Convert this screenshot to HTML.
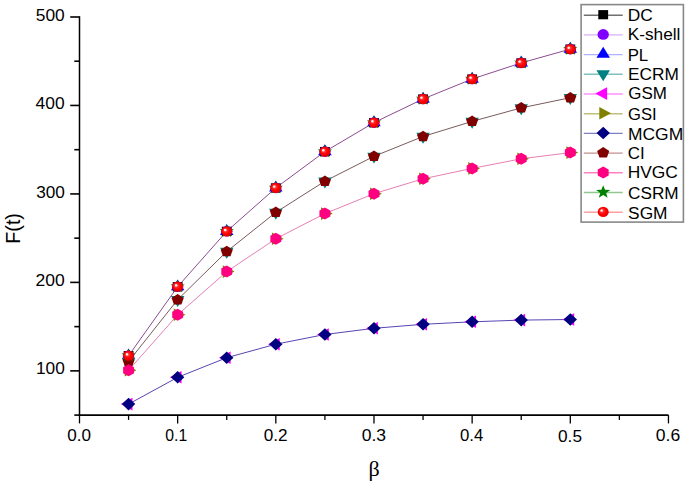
<!DOCTYPE html>
<html><head><meta charset="utf-8"><style>
html,body{margin:0;padding:0;background:#fff;}
svg{display:block;}
.tl{font-family:"Liberation Sans",sans-serif;font-size:16.3px;fill:#000;}
.lg{font-family:"Liberation Sans",sans-serif;font-size:16.3px;fill:#000;}
.at{font-family:"Liberation Sans",sans-serif;font-size:19.7px;fill:#000;}
.beta{font-family:"Liberation Serif",serif;font-size:22px;fill:#000;}
</style></head><body>
<svg width="685" height="485" viewBox="0 0 685 485">
<defs>
<radialGradient id="sph" cx="0.5" cy="0.5" r="0.55" fx="0.32" fy="0.34">
<stop offset="0" stop-color="#ffffff"/><stop offset="0.12" stop-color="#fff0f0"/><stop offset="0.3" stop-color="#ff3030"/><stop offset="0.6" stop-color="#ff0000"/><stop offset="1" stop-color="#e00000"/>
</radialGradient>
</defs>
<polyline points="128.58,355.70 177.66,286.70 226.74,231.30 275.82,187.90 324.90,151.60 373.98,122.60 423.06,99.00 472.14,79.00 521.22,62.90 570.30,49.10" fill="none" stroke="#8c4c90" stroke-width="1.0" stroke-linejoin="round"/>
<polyline points="128.58,361.50 177.66,299.70 226.74,251.50 275.82,212.40 324.90,181.20 373.98,156.30 423.06,136.50 472.14,121.40 521.22,107.90 570.30,97.70" fill="none" stroke="#7a5c5c" stroke-width="1.0" stroke-linejoin="round"/>
<polyline points="128.58,370.30 177.66,314.80 226.74,271.60 275.82,238.80 324.90,213.60 373.98,193.70 423.06,178.80 472.14,168.40 521.22,158.80 570.30,152.60" fill="none" stroke="#e680b4" stroke-width="1.0" stroke-linejoin="round"/>
<polyline points="128.58,404.10 177.66,377.30 226.74,357.70 275.82,344.20 324.90,334.50 373.98,328.30 423.06,324.30 472.14,321.80 521.22,320.10 570.30,319.50" fill="none" stroke="#5a44b4" stroke-width="1.0" stroke-linejoin="round"/>
<rect x="123.66" y="351.10" width="9.84" height="9.20" fill="#000000"/>
<rect x="172.74" y="282.10" width="9.84" height="9.20" fill="#000000"/>
<rect x="221.82" y="226.70" width="9.84" height="9.20" fill="#000000"/>
<rect x="270.90" y="183.30" width="9.84" height="9.20" fill="#000000"/>
<rect x="319.98" y="147.00" width="9.84" height="9.20" fill="#000000"/>
<rect x="369.06" y="118.00" width="9.84" height="9.20" fill="#000000"/>
<rect x="418.14" y="94.40" width="9.84" height="9.20" fill="#000000"/>
<rect x="467.22" y="74.40" width="9.84" height="9.20" fill="#000000"/>
<rect x="516.30" y="58.30" width="9.84" height="9.20" fill="#000000"/>
<rect x="565.38" y="44.50" width="9.84" height="9.20" fill="#000000"/>
<ellipse cx="128.58" cy="355.70" rx="5.67" ry="5.3" fill="#8000ff"/>
<ellipse cx="177.66" cy="286.70" rx="5.67" ry="5.3" fill="#8000ff"/>
<ellipse cx="226.74" cy="231.30" rx="5.67" ry="5.3" fill="#8000ff"/>
<ellipse cx="275.82" cy="187.90" rx="5.67" ry="5.3" fill="#8000ff"/>
<ellipse cx="324.90" cy="151.60" rx="5.67" ry="5.3" fill="#8000ff"/>
<ellipse cx="373.98" cy="122.60" rx="5.67" ry="5.3" fill="#8000ff"/>
<ellipse cx="423.06" cy="99.00" rx="5.67" ry="5.3" fill="#8000ff"/>
<ellipse cx="472.14" cy="79.00" rx="5.67" ry="5.3" fill="#8000ff"/>
<ellipse cx="521.22" cy="62.90" rx="5.67" ry="5.3" fill="#8000ff"/>
<ellipse cx="570.30" cy="49.10" rx="5.67" ry="5.3" fill="#8000ff"/>
<polygon points="128.58,348.40 135.34,359.35 121.82,359.35" fill="#0000ff"/>
<polygon points="177.66,279.40 184.42,290.35 170.90,290.35" fill="#0000ff"/>
<polygon points="226.74,224.00 233.50,234.95 219.98,234.95" fill="#0000ff"/>
<polygon points="275.82,180.60 282.58,191.55 269.06,191.55" fill="#0000ff"/>
<polygon points="324.90,144.30 331.66,155.25 318.14,155.25" fill="#0000ff"/>
<polygon points="373.98,115.30 380.74,126.25 367.22,126.25" fill="#0000ff"/>
<polygon points="423.06,91.70 429.82,102.65 416.30,102.65" fill="#0000ff"/>
<polygon points="472.14,71.70 478.90,82.65 465.38,82.65" fill="#0000ff"/>
<polygon points="521.22,55.60 527.98,66.55 514.46,66.55" fill="#0000ff"/>
<polygon points="570.30,41.80 577.06,52.75 563.54,52.75" fill="#0000ff"/>
<polygon points="128.58,368.80 121.82,357.85 135.34,357.85" fill="#008080"/>
<polygon points="177.66,307.00 170.90,296.05 184.42,296.05" fill="#008080"/>
<polygon points="226.74,258.80 219.98,247.85 233.50,247.85" fill="#008080"/>
<polygon points="275.82,219.70 269.06,208.75 282.58,208.75" fill="#008080"/>
<polygon points="324.90,188.50 318.14,177.55 331.66,177.55" fill="#008080"/>
<polygon points="373.98,163.60 367.22,152.65 380.74,152.65" fill="#008080"/>
<polygon points="423.06,143.80 416.30,132.85 429.82,132.85" fill="#008080"/>
<polygon points="472.14,128.70 465.38,117.75 478.90,117.75" fill="#008080"/>
<polygon points="521.22,115.20 514.46,104.25 527.98,104.25" fill="#008080"/>
<polygon points="570.30,105.00 563.54,94.05 577.06,94.05" fill="#008080"/>
<polygon points="120.77,404.10 132.49,397.78 132.49,410.42" fill="#ff00ff"/>
<polygon points="169.85,377.30 181.57,370.98 181.57,383.62" fill="#ff00ff"/>
<polygon points="218.93,357.70 230.65,351.38 230.65,364.02" fill="#ff00ff"/>
<polygon points="268.01,344.20 279.73,337.88 279.73,350.52" fill="#ff00ff"/>
<polygon points="317.09,334.50 328.81,328.18 328.81,340.82" fill="#ff00ff"/>
<polygon points="366.17,328.30 377.89,321.98 377.89,334.62" fill="#ff00ff"/>
<polygon points="415.25,324.30 426.97,317.98 426.97,330.62" fill="#ff00ff"/>
<polygon points="464.33,321.80 476.05,315.48 476.05,328.12" fill="#ff00ff"/>
<polygon points="513.41,320.10 525.13,313.78 525.13,326.42" fill="#ff00ff"/>
<polygon points="562.49,319.50 574.21,313.18 574.21,325.82" fill="#ff00ff"/>
<polygon points="136.39,370.30 124.67,376.62 124.67,363.98" fill="#808000"/>
<polygon points="185.47,314.80 173.75,321.12 173.75,308.48" fill="#808000"/>
<polygon points="234.55,271.60 222.83,277.92 222.83,265.28" fill="#808000"/>
<polygon points="283.63,238.80 271.91,245.12 271.91,232.48" fill="#808000"/>
<polygon points="332.71,213.60 320.99,219.92 320.99,207.28" fill="#808000"/>
<polygon points="381.79,193.70 370.07,200.02 370.07,187.38" fill="#808000"/>
<polygon points="430.87,178.80 419.15,185.12 419.15,172.48" fill="#808000"/>
<polygon points="479.95,168.40 468.23,174.72 468.23,162.08" fill="#808000"/>
<polygon points="529.03,158.80 517.31,165.12 517.31,152.48" fill="#808000"/>
<polygon points="578.11,152.60 566.39,158.92 566.39,146.28" fill="#808000"/>
<polygon points="128.58,397.80 135.28,404.10 128.58,410.40 121.88,404.10" fill="#000080"/>
<polygon points="177.66,371.00 184.36,377.30 177.66,383.60 170.96,377.30" fill="#000080"/>
<polygon points="226.74,351.40 233.44,357.70 226.74,364.00 220.04,357.70" fill="#000080"/>
<polygon points="275.82,337.90 282.52,344.20 275.82,350.50 269.12,344.20" fill="#000080"/>
<polygon points="324.90,328.20 331.60,334.50 324.90,340.80 318.20,334.50" fill="#000080"/>
<polygon points="373.98,322.00 380.68,328.30 373.98,334.60 367.28,328.30" fill="#000080"/>
<polygon points="423.06,318.00 429.76,324.30 423.06,330.60 416.36,324.30" fill="#000080"/>
<polygon points="472.14,315.50 478.84,321.80 472.14,328.10 465.44,321.80" fill="#000080"/>
<polygon points="521.22,313.80 527.92,320.10 521.22,326.40 514.52,320.10" fill="#000080"/>
<polygon points="570.30,313.20 577.00,319.50 570.30,325.80 563.60,319.50" fill="#000080"/>
<polygon points="128.58,355.70 134.65,359.71 132.33,366.19 124.83,366.19 122.51,359.71" fill="#800000"/>
<polygon points="177.66,293.90 183.73,297.91 181.41,304.39 173.91,304.39 171.59,297.91" fill="#800000"/>
<polygon points="226.74,245.70 232.81,249.71 230.49,256.19 222.99,256.19 220.67,249.71" fill="#800000"/>
<polygon points="275.82,206.60 281.89,210.61 279.57,217.09 272.07,217.09 269.75,210.61" fill="#800000"/>
<polygon points="324.90,175.40 330.97,179.41 328.65,185.89 321.15,185.89 318.83,179.41" fill="#800000"/>
<polygon points="373.98,150.50 380.05,154.51 377.73,160.99 370.23,160.99 367.91,154.51" fill="#800000"/>
<polygon points="423.06,130.70 429.13,134.71 426.81,141.19 419.31,141.19 416.99,134.71" fill="#800000"/>
<polygon points="472.14,115.60 478.21,119.61 475.89,126.09 468.39,126.09 466.07,119.61" fill="#800000"/>
<polygon points="521.22,102.10 527.29,106.11 524.97,112.59 517.47,112.59 515.15,106.11" fill="#800000"/>
<polygon points="570.30,91.90 576.37,95.91 574.05,102.39 566.55,102.39 564.23,95.91" fill="#800000"/>
<polygon points="128.58,364.30 134.04,367.30 134.04,373.30 128.58,376.30 123.12,373.30 123.12,367.30" fill="#ff0080"/>
<polygon points="177.66,308.80 183.12,311.80 183.12,317.80 177.66,320.80 172.20,317.80 172.20,311.80" fill="#ff0080"/>
<polygon points="226.74,265.60 232.20,268.60 232.20,274.60 226.74,277.60 221.28,274.60 221.28,268.60" fill="#ff0080"/>
<polygon points="275.82,232.80 281.28,235.80 281.28,241.80 275.82,244.80 270.36,241.80 270.36,235.80" fill="#ff0080"/>
<polygon points="324.90,207.60 330.36,210.60 330.36,216.60 324.90,219.60 319.44,216.60 319.44,210.60" fill="#ff0080"/>
<polygon points="373.98,187.70 379.44,190.70 379.44,196.70 373.98,199.70 368.52,196.70 368.52,190.70" fill="#ff0080"/>
<polygon points="423.06,172.80 428.52,175.80 428.52,181.80 423.06,184.80 417.60,181.80 417.60,175.80" fill="#ff0080"/>
<polygon points="472.14,162.40 477.60,165.40 477.60,171.40 472.14,174.40 466.68,171.40 466.68,165.40" fill="#ff0080"/>
<polygon points="521.22,152.80 526.68,155.80 526.68,161.80 521.22,164.80 515.76,161.80 515.76,155.80" fill="#ff0080"/>
<polygon points="570.30,146.60 575.76,149.60 575.76,155.60 570.30,158.60 564.84,155.60 564.84,149.60" fill="#ff0080"/>
<polygon points="128.58,348.70 130.40,353.35 135.70,353.54 131.53,356.60 132.98,361.36 128.58,358.60 124.18,361.36 125.63,356.60 121.46,353.54 126.76,353.35" fill="#008000"/>
<polygon points="177.66,279.70 179.48,284.35 184.78,284.54 180.61,287.60 182.06,292.36 177.66,289.60 173.26,292.36 174.71,287.60 170.54,284.54 175.84,284.35" fill="#008000"/>
<polygon points="226.74,224.30 228.56,228.95 233.86,229.14 229.69,232.20 231.14,236.96 226.74,234.20 222.34,236.96 223.79,232.20 219.62,229.14 224.92,228.95" fill="#008000"/>
<polygon points="275.82,180.90 277.64,185.55 282.94,185.74 278.77,188.80 280.22,193.56 275.82,190.80 271.42,193.56 272.87,188.80 268.70,185.74 274.00,185.55" fill="#008000"/>
<polygon points="324.90,144.60 326.72,149.25 332.02,149.44 327.85,152.50 329.30,157.26 324.90,154.50 320.50,157.26 321.95,152.50 317.78,149.44 323.08,149.25" fill="#008000"/>
<polygon points="373.98,115.60 375.80,120.25 381.10,120.44 376.93,123.50 378.38,128.26 373.98,125.50 369.58,128.26 371.03,123.50 366.86,120.44 372.16,120.25" fill="#008000"/>
<polygon points="423.06,92.00 424.88,96.65 430.18,96.84 426.01,99.90 427.46,104.66 423.06,101.90 418.66,104.66 420.11,99.90 415.94,96.84 421.24,96.65" fill="#008000"/>
<polygon points="472.14,72.00 473.96,76.65 479.26,76.84 475.09,79.90 476.54,84.66 472.14,81.90 467.74,84.66 469.19,79.90 465.02,76.84 470.32,76.65" fill="#008000"/>
<polygon points="521.22,55.90 523.04,60.55 528.34,60.74 524.17,63.80 525.62,68.56 521.22,65.80 516.82,68.56 518.27,63.80 514.10,60.74 519.40,60.55" fill="#008000"/>
<polygon points="570.30,42.10 572.12,46.75 577.42,46.94 573.25,50.00 574.70,54.76 570.30,52.00 565.90,54.76 567.35,50.00 563.18,46.94 568.48,46.75" fill="#008000"/>
<ellipse cx="128.58" cy="355.70" rx="5.51" ry="5.15" fill="url(#sph)"/>
<ellipse cx="177.66" cy="286.70" rx="5.51" ry="5.15" fill="url(#sph)"/>
<ellipse cx="226.74" cy="231.30" rx="5.51" ry="5.15" fill="url(#sph)"/>
<ellipse cx="275.82" cy="187.90" rx="5.51" ry="5.15" fill="url(#sph)"/>
<ellipse cx="324.90" cy="151.60" rx="5.51" ry="5.15" fill="url(#sph)"/>
<ellipse cx="373.98" cy="122.60" rx="5.51" ry="5.15" fill="url(#sph)"/>
<ellipse cx="423.06" cy="99.00" rx="5.51" ry="5.15" fill="url(#sph)"/>
<ellipse cx="472.14" cy="79.00" rx="5.51" ry="5.15" fill="url(#sph)"/>
<ellipse cx="521.22" cy="62.90" rx="5.51" ry="5.15" fill="url(#sph)"/>
<ellipse cx="570.30" cy="49.10" rx="5.51" ry="5.15" fill="url(#sph)"/>
<line x1="79.5" y1="16.2" x2="79.5" y2="415.1" stroke="#000" stroke-width="1.5"/>
<line x1="78.8" y1="415.1" x2="668.5" y2="415.1" stroke="#000" stroke-width="1.7"/>
<line x1="74.30" y1="415.10" x2="79.5" y2="415.10" stroke="#000" stroke-width="1.6"/>
<line x1="70.20" y1="370.87" x2="79.5" y2="370.87" stroke="#000" stroke-width="1.6"/>
<line x1="74.30" y1="326.63" x2="79.5" y2="326.63" stroke="#000" stroke-width="1.6"/>
<line x1="70.20" y1="282.39" x2="79.5" y2="282.39" stroke="#000" stroke-width="1.6"/>
<line x1="74.30" y1="238.16" x2="79.5" y2="238.16" stroke="#000" stroke-width="1.6"/>
<line x1="70.20" y1="193.93" x2="79.5" y2="193.93" stroke="#000" stroke-width="1.6"/>
<line x1="74.30" y1="149.69" x2="79.5" y2="149.69" stroke="#000" stroke-width="1.6"/>
<line x1="70.20" y1="105.45" x2="79.5" y2="105.45" stroke="#000" stroke-width="1.6"/>
<line x1="74.30" y1="61.22" x2="79.5" y2="61.22" stroke="#000" stroke-width="1.6"/>
<line x1="70.20" y1="16.99" x2="79.5" y2="16.99" stroke="#000" stroke-width="1.6"/>
<line x1="79.50" y1="415.1" x2="79.50" y2="423.40" stroke="#000" stroke-width="1.3"/>
<line x1="128.58" y1="415.1" x2="128.58" y2="419.90" stroke="#000" stroke-width="1.3"/>
<line x1="177.66" y1="415.1" x2="177.66" y2="423.40" stroke="#000" stroke-width="1.3"/>
<line x1="226.74" y1="415.1" x2="226.74" y2="419.90" stroke="#000" stroke-width="1.3"/>
<line x1="275.82" y1="415.1" x2="275.82" y2="423.40" stroke="#000" stroke-width="1.3"/>
<line x1="324.90" y1="415.1" x2="324.90" y2="419.90" stroke="#000" stroke-width="1.3"/>
<line x1="373.98" y1="415.1" x2="373.98" y2="423.40" stroke="#000" stroke-width="1.3"/>
<line x1="423.06" y1="415.1" x2="423.06" y2="419.90" stroke="#000" stroke-width="1.3"/>
<line x1="472.14" y1="415.1" x2="472.14" y2="423.40" stroke="#000" stroke-width="1.3"/>
<line x1="521.22" y1="415.1" x2="521.22" y2="419.90" stroke="#000" stroke-width="1.3"/>
<line x1="570.30" y1="415.1" x2="570.30" y2="423.40" stroke="#000" stroke-width="1.3"/>
<line x1="619.38" y1="415.1" x2="619.38" y2="419.90" stroke="#000" stroke-width="1.3"/>
<line x1="668.46" y1="415.1" x2="668.46" y2="423.40" stroke="#000" stroke-width="1.3"/>
<rect x="581.1" y="4.6" width="102.3" height="217.5" fill="#fff" stroke="#888" stroke-width="1.6"/>
<line x1="583.8" y1="15.20" x2="622.7" y2="15.20" stroke="#707070" stroke-width="1.4"/>
<rect x="598.28" y="10.10" width="9.84" height="9.20" fill="#000000"/>
<line x1="583.8" y1="34.90" x2="622.7" y2="34.90" stroke="#d8b0f8" stroke-width="1.4"/>
<ellipse cx="603.20" cy="34.42" rx="5.67" ry="5.3" fill="#8000ff"/>
<line x1="583.8" y1="54.60" x2="622.7" y2="54.60" stroke="#b0b0ff" stroke-width="1.4"/>
<polygon points="603.20,46.84 609.96,57.79 596.44,57.79" fill="#0000ff"/>
<line x1="583.8" y1="74.30" x2="622.7" y2="74.30" stroke="#80c0c0" stroke-width="1.4"/>
<polygon points="603.20,81.16 596.44,70.21 609.96,70.21" fill="#008080"/>
<line x1="583.8" y1="94.00" x2="622.7" y2="94.00" stroke="#ff90ff" stroke-width="1.4"/>
<polygon points="595.39,93.58 607.11,87.26 607.11,99.90" fill="#ff00ff"/>
<line x1="583.8" y1="113.70" x2="622.7" y2="113.70" stroke="#c0c080" stroke-width="1.4"/>
<polygon points="611.01,113.30 599.29,119.62 599.29,106.98" fill="#808000"/>
<line x1="583.8" y1="133.40" x2="622.7" y2="133.40" stroke="#8080c0" stroke-width="1.4"/>
<polygon points="603.20,126.72 609.90,133.02 603.20,139.32 596.50,133.02" fill="#000080"/>
<line x1="583.8" y1="153.10" x2="622.7" y2="153.10" stroke="#c09090" stroke-width="1.4"/>
<polygon points="603.20,146.94 609.27,150.95 606.95,157.43 599.45,157.43 597.13,150.95" fill="#800000"/>
<line x1="583.8" y1="172.80" x2="622.7" y2="172.80" stroke="#ff80c0" stroke-width="1.4"/>
<polygon points="603.20,166.46 608.66,169.46 608.66,175.46 603.20,178.46 597.74,175.46 597.74,169.46" fill="#ff0080"/>
<line x1="583.8" y1="192.50" x2="622.7" y2="192.50" stroke="#90c890" stroke-width="1.4"/>
<polygon points="603.20,185.18 605.02,189.83 610.32,190.02 606.15,193.08 607.60,197.84 603.20,195.08 598.80,197.84 600.25,193.08 596.08,190.02 601.38,189.83" fill="#008000"/>
<line x1="583.8" y1="212.20" x2="622.7" y2="212.20" stroke="#ffa0a0" stroke-width="1.4"/>
<ellipse cx="603.20" cy="211.90" rx="5.51" ry="5.15" fill="url(#sph)"/>
<text transform="translate(64.75,374.31) scale(1.0598,1)" text-anchor="end" class="tl">100</text>
<text transform="translate(64.71,285.94) scale(1.0743,1)" text-anchor="end" class="tl">200</text>
<text transform="translate(64.91,198.13) scale(1.0558,1)" text-anchor="end" class="tl">300</text>
<text transform="translate(64.55,109.20) scale(1.0673,1)" text-anchor="end" class="tl">400</text>
<text transform="translate(64.78,20.64) scale(1.0665,1)" text-anchor="end" class="tl">500</text>
<text transform="translate(79.21,441.43) scale(1.0478,1)" text-anchor="middle" class="tl">0.0</text>
<text transform="translate(176.24,441.20) scale(0.9657,1)" text-anchor="middle" class="tl">0.1</text>
<text transform="translate(275.61,440.75) scale(1.0540,1)" text-anchor="middle" class="tl">0.2</text>
<text transform="translate(373.94,441.43) scale(1.0758,1)" text-anchor="middle" class="tl">0.3</text>
<text transform="translate(471.64,441.43) scale(1.0288,1)" text-anchor="middle" class="tl">0.4</text>
<text transform="translate(570.00,441.65) scale(1.0583,1)" text-anchor="middle" class="tl">0.5</text>
<text transform="translate(667.93,441.43) scale(1.0781,1)" text-anchor="middle" class="tl">0.6</text>
<text transform="translate(627.72,21.25) scale(1.0633,1)" text-anchor="start" class="lg">DC</text>
<text transform="translate(627.69,40.02) scale(1.0601,1)" text-anchor="start" class="lg">K-shell</text>
<text transform="translate(627.67,60.68) scale(1.0297,1)" text-anchor="start" class="lg">PL</text>
<text transform="translate(628.08,80.39) scale(1.0587,1)" text-anchor="start" class="lg">ECRM</text>
<text transform="translate(628.24,99.16) scale(1.0418,1)" text-anchor="start" class="lg">GSM</text>
<text transform="translate(628.02,119.57) scale(1.0206,1)" text-anchor="start" class="lg">GSI</text>
<text transform="translate(627.98,139.59) scale(1.0705,1)" text-anchor="start" class="lg">MCGM</text>
<text transform="translate(627.74,158.90) scale(1.0378,1)" text-anchor="start" class="lg">CI</text>
<text transform="translate(627.69,178.32) scale(1.0668,1)" text-anchor="start" class="lg">HVGC</text>
<text transform="translate(628.04,198.68) scale(1.0545,1)" text-anchor="start" class="lg">CSRM</text>
<text transform="translate(628.11,218.85) scale(1.0628,1)" text-anchor="start" class="lg">SGM</text>
<text transform="translate(19.6,228.4) rotate(-90)" text-anchor="middle" class="at">F(t)</text>
<text x="374" y="476" text-anchor="middle" class="beta">&#946;</text>
</svg>
</body></html>
